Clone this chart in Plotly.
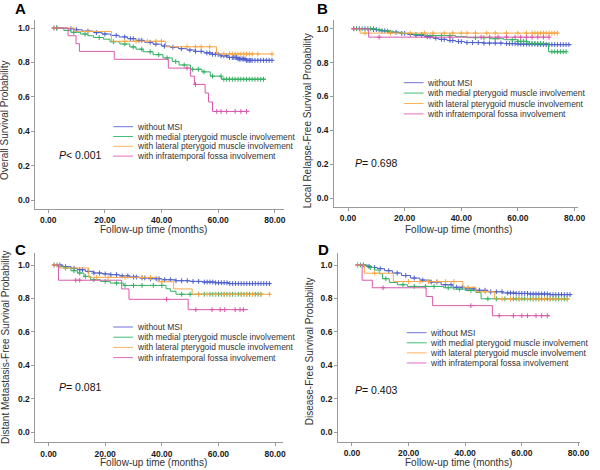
import bisect
import plotly.graph_objects as go

# ---------------- data ----------------
GROUPS = ["without MSI",
          "with medial pterygoid muscle involvement",
          "with lateral pterygoid muscle involvement",
          "with infratemporal fossa involvement"]
PANEL_LABELS = ["A", "B", "C", "D"]
Y_TITLES = ["Overall Survival Probability",
            "Local Relapse-Free Survival Probability",
            "Distant Metastasis-Free Survival Probability",
            "Disease-Free Survival Probability"]
X_TITLE = "Follow-up time (months)"
P_TEXTS = ["<i>P</i>< 0.001", "<i>P</i>= 0.698", "<i>P</i>= 0.081", "<i>P</i>= 0.403"]
X_TICKS = [0, 20, 40, 60, 80]
X_TICK_LABELS = ["0.00", "20.00", "40.00", "60.00", "80.00"]
Y_TICKS = [0.0, 0.2, 0.4, 0.6, 0.8, 1.0]
Y_TICK_LABELS = ["0.0", "0.2", "0.4", "0.6", "0.8", "1.0"]

# Panel A - overall survival
A_NONE_T = [1.5, 6, 9, 12, 16, 19, 22, 25, 28, 31, 34, 37, 40, 43, 46, 49, 52, 55, 58, 61, 64, 67, 70, 79.2]
A_NONE_S = [1.0, 0.996, 0.99, 0.982, 0.973, 0.965, 0.957, 0.948, 0.938, 0.928, 0.917, 0.906, 0.895, 0.888,
            0.880, 0.872, 0.864, 0.855, 0.847, 0.838, 0.829, 0.820, 0.812, 0.812]
A_NONE_C = [2, 3, 8, 10, 14, 17, 20, 24, 27, 29, 30, 32, 33, 36, 38, 41, 44, 47, 50, 52, 54, 56, 57, 58, 59,
            60, 61, 62, 63, 64, 65, 65.5, 66, 66.5, 67, 67.5, 68, 68.5, 69, 69.5, 70, 70.5, 71, 71.5, 72, 73,
            74, 75, 76, 77, 78, 79]
A_MED_T = [1.5, 5.5, 8, 11.4, 14, 16, 19.5, 21.8, 25.3, 28.8, 31, 33.5, 37, 40.5, 43.8, 46.2, 50.2, 54.3,
           57.2, 61.2, 76.9]
A_MED_S = [1.0, 0.985, 0.975, 0.965, 0.955, 0.945, 0.935, 0.92, 0.907, 0.89, 0.877, 0.862, 0.845, 0.826,
           0.805, 0.785, 0.760, 0.745, 0.72, 0.702, 0.702]
A_MED_C = [3, 9, 13, 18, 23, 27, 30, 33, 36, 39, 42, 45, 48, 51, 53, 55, 58, 61, 62, 63, 64, 65, 66, 67, 68,
           69, 70, 71, 72, 73, 74, 75, 76]
A_LAT_T = [1.5, 9.5, 22.3, 41.4, 59.4, 79.3]
A_LAT_S = [1.0, 0.98, 0.923, 0.891, 0.849, 0.849]
A_LAT_C = [2, 14, 27, 31, 35, 38, 40, 49, 52, 54, 57, 62, 64, 65, 66, 67, 68, 69, 70, 71, 72, 74, 79]
A_INF_T = [1.5, 7.0, 9.8, 11.0, 23.3, 42.4, 50.2, 51.6, 55.4, 56.6, 58.0, 71.0]
A_INF_S = [1.0, 0.955, 0.909, 0.864, 0.818, 0.767, 0.72, 0.672, 0.622, 0.570, 0.515, 0.515]
A_INF_C = [49.0, 52.0, 59.5, 61, 63, 66, 68, 70]

# Panel B - local relapse-free survival
B_NONE_T = [1.5, 8.8, 11, 14.5, 18, 21, 23.8, 27, 30, 32, 35, 38, 41.2, 48, 55, 60, 66.7, 78.9]
B_NONE_S = [1.0, 0.995, 0.988, 0.979, 0.972, 0.966, 0.961, 0.952, 0.944, 0.937, 0.93, 0.924, 0.918, 0.915,
            0.912, 0.909, 0.906, 0.906]
B_NONE_C = [2, 4, 6, 9, 10, 12, 13, 15, 17, 19, 20, 22, 24, 26, 28, 29, 31, 33, 34, 36, 37, 39, 40, 42, 44,
            46, 48, 50, 52, 54, 56, 57, 58, 59, 60, 61, 62, 63, 64, 65, 66, 67, 68, 69, 70, 71, 72, 73, 74,
            75, 76, 77, 78]
B_MED_T = [1.5, 10, 12.3, 16, 19.2, 23, 27.3, 38, 42, 50, 55, 60, 63.2, 70.8, 77.1]
B_MED_S = [1.0, 0.993, 0.986, 0.979, 0.972, 0.966, 0.96, 0.953, 0.947, 0.941, 0.935, 0.925, 0.913, 0.864, 0.864]
B_MED_C = [3, 5, 7, 8, 9, 11, 14, 24, 26, 30, 33, 36, 45, 48, 52, 58, 60, 61, 62, 63, 64, 65, 66, 67, 68,
           69, 72, 73, 74, 75, 76, 77]
B_LAT_T = [1.5, 4.3, 74.3]
B_LAT_S = [1.0, 0.974, 0.974]
B_LAT_C = [2, 6, 15, 22, 27, 30, 34, 37, 40, 42, 45, 49, 52, 56, 60, 63, 65, 66, 67, 68, 69, 70, 71, 72, 73, 74]
B_INF_T = [1.5, 7.3, 71.0]
B_INF_S = [1.0, 0.95, 0.95]
B_INF_C = [2, 11, 36, 47, 50, 53, 56, 59, 61, 63, 65, 67, 69, 71]

# Panel C - distant metastasis-free survival
C_NONE_T = [1.5, 5, 8, 10.2, 13, 15.9, 19, 21.7, 25, 28.7, 32, 35.6, 40, 44.9, 50, 54.2, 59, 63.5, 78.5]
C_NONE_S = [1.0, 0.99, 0.98, 0.972, 0.962, 0.952, 0.947, 0.942, 0.935, 0.928, 0.923, 0.918, 0.912, 0.906,
            0.902, 0.898, 0.894, 0.889, 0.889]
C_NONE_C = [2, 4, 6, 9, 11, 12, 14, 16, 18, 20, 22, 24, 26, 28, 30, 31, 33, 34, 36, 38, 39, 41, 43, 45, 47,
            49, 51, 53, 55, 56, 57, 58, 59, 60, 61, 62, 63, 64, 65, 66, 67, 68, 69, 70, 71, 72, 73, 74, 75,
            76, 77, 78]
C_MED_T = [1.5, 3.8, 5.6, 7.9, 10.2, 12.5, 14.8, 18.3, 21.8, 26.4, 41.5, 43, 45, 75.6]
C_MED_S = [1.0, 0.99, 0.982, 0.966, 0.952, 0.932, 0.912, 0.902, 0.892, 0.878, 0.858, 0.843, 0.825, 0.825]
C_MED_C = [3, 6, 9, 11, 13, 16, 20, 24, 27, 30, 33, 37, 40, 47, 50, 53, 55, 57, 58, 59, 60, 61, 62, 63, 64,
           65, 66, 67, 68, 69, 70, 71, 72, 73, 74, 75]
C_LAT_T = [1.5, 4.0, 14.2, 38.6, 44.2, 50.7, 78.5]
C_LAT_S = [1.0, 0.982, 0.926, 0.90, 0.857, 0.825, 0.825]
C_LAT_C = [2, 17, 21, 27, 33, 36, 40, 53, 56, 59, 62, 64, 66, 68, 70, 72, 75, 78]
C_INF_T = [1.5, 3.5, 25.8, 28.4, 49.3, 70.4]
C_INF_S = [1.0, 0.909, 0.857, 0.795, 0.733, 0.733]
C_INF_C = [9.6, 11, 41.7, 52, 57.7, 60.6, 62.2, 65.9, 67.6, 68.8]

# Panel D - disease-free survival
D_NONE_T = [1.5, 5, 7, 9, 11.5, 14.3, 17.5, 20.7, 24, 27.6, 31.5, 35.7, 40, 43.8, 48, 53.1, 58, 62.4, 70, 77.5]
D_NONE_S = [1.0, 0.992, 0.985, 0.978, 0.966, 0.952, 0.937, 0.922, 0.91, 0.898, 0.882, 0.867, 0.857, 0.849,
            0.84, 0.833, 0.83, 0.827, 0.823, 0.823]
D_NONE_C = [2, 4, 6, 8, 10, 13, 16, 19, 22, 25, 28, 30, 33, 35, 37, 39, 41, 43, 45, 47, 49, 51, 53, 55, 56,
            57, 58, 59, 60, 61, 62, 63, 64, 65, 66, 67, 68, 69, 70, 71, 72, 73, 74, 75, 76, 77]
D_MED_T = [1.5, 5.6, 7.9, 9.6, 10.8, 13.2, 16.1, 19.6, 32.4, 35.8, 40, 43.8, 45.6, 76.3]
D_MED_S = [1.0, 0.985, 0.97, 0.948, 0.918, 0.895, 0.882, 0.872, 0.864, 0.856, 0.848, 0.836, 0.798, 0.798]
D_MED_C = [3, 6.5, 12, 18, 22, 26, 29, 34, 38, 42, 48, 51, 54, 56, 57, 58, 59, 60, 61, 62, 63, 64, 65, 66,
           67, 68, 69, 70, 71, 72, 73, 74, 75, 76]
D_LAT_T = [1.5, 4.4, 14.6, 39.2, 43.8, 50.4, 76.6]
D_LAT_S = [1.0, 0.951, 0.901, 0.866, 0.84, 0.797, 0.797]
D_LAT_C = [2, 8, 20, 24, 27, 30, 33, 36, 41, 47, 53, 56, 59, 62, 64, 66, 68, 70, 72, 74, 76]
D_INF_T = [1.5, 3.6, 7.2, 26.2, 28.5, 49.6, 70.0]
D_INF_S = [1.0, 0.909, 0.864, 0.812, 0.757, 0.697, 0.697]
D_INF_C = [11, 42, 52, 57, 60, 62, 65, 67, 69]

# ---------------- style / layout ----------------
W, H = 600, 470
COLORS = ["#4f60cc", "#34b064", "#f6a845", "#d95aab"]
LEGEND_COLORS = ["#6f72dc", "#3fc07a", "#ffb25a", "#e26cc4"]
FONT = "Liberation Sans, Arial, sans-serif"
AXIS_COLOR = "#9a9a9a"

PANEL_DATA = [
    [(A_NONE_T, A_NONE_S, A_NONE_C), (A_MED_T, A_MED_S, A_MED_C), (A_LAT_T, A_LAT_S, A_LAT_C), (A_INF_T, A_INF_S, A_INF_C)],
    [(B_NONE_T, B_NONE_S, B_NONE_C), (B_MED_T, B_MED_S, B_MED_C), (B_LAT_T, B_LAT_S, B_LAT_C), (B_INF_T, B_INF_S, B_INF_C)],
    [(C_NONE_T, C_NONE_S, C_NONE_C), (C_MED_T, C_MED_S, C_MED_C), (C_LAT_T, C_LAT_S, C_LAT_C), (C_INF_T, C_INF_S, C_INF_C)],
    [(D_NONE_T, D_NONE_S, D_NONE_C), (D_MED_T, D_MED_S, D_MED_C), (D_LAT_T, D_LAT_S, D_LAT_C), (D_INF_T, D_INF_S, D_INF_C)],
]

# pixel geometry of each panel: axis box (left, right, top, bottom), x-zero px, y=1 px, y=0 px
GEOM = [
    dict(l=36, r=288, t=20, b=209, x0=49.0, y1=28.0, y0=200.0),
    dict(l=339.3, r=587.3, t=20, b=206.7, x0=353.3, y1=28.7, y0=198.0),
    dict(l=36, r=287.3, t=253, b=442.3, x0=49.3, y1=265.0, y0=432.3),
    dict(l=343.3, r=589.3, t=253, b=441.7, x0=357.3, y1=265.0, y0=432.3),
]
PX_PER_MONTH = 2.875
LEGEND_POS = [  # line start x, text x, first row y, row gap
    (115, 137, 126.7, 9.8),
    (410, 431, 82.7, 10.4),
    (115, 137, 327.0, 10.2),
    (413, 435, 332.7, 10.1),
]
PVAL_POS = [(58, 155), (358, 162.7), (58, 386.7), (358, 390.3)]
LABEL_POS = [(21, 9), (327, 9), (21, 249), (328, 249)]
YTITLE_POS = [(5, 120), (313, 121), (5, 347), (314, 351)]
XTITLE_POS = [(156, 229), (465, 229), (156, 462), (465, 462)]


def px(x):
    return x / W


def py(y):
    return 1 - y / H


def step_value(T, S, c):
    i = bisect.bisect_right(T, c) - 1
    return S[max(i, 0)]


fig = go.Figure()
annotations = []
shapes = []

for p in range(4):
    g = GEOM[p]
    sfx = "" if p == 0 else str(p + 1)
    xa, ya = "x" + sfx, "y" + sfx
    for k in range(4):
        T, S, C = PANEL_DATA[p][k]
        fig.add_trace(go.Scatter(x=T, y=S, mode="lines", line=dict(color=COLORS[k], width=1, shape="hv"),
                                 xaxis=xa, yaxis=ya, showlegend=False, hoverinfo="skip"))
        cy = [step_value(T, S, c) for c in C]
        fig.add_trace(go.Scatter(x=C, y=cy, mode="markers",
                                 marker=dict(symbol="cross-thin", size=3.5, line=dict(color=COLORS[k], width=1)),
                                 xaxis=xa, yaxis=ya, showlegend=False, hoverinfo="skip"))

    xr = [-(g["x0"] - g["l"]) / PX_PER_MONTH, (g["r"] - g["x0"]) / PX_PER_MONTH]
    ppu = g["y0"] - g["y1"]
    yr = [-(g["b"] - g["y0"]) / ppu, 1 + (g["y1"] - g["t"]) / ppu]
    common = dict(showline=True, linecolor=AXIS_COLOR, linewidth=1, ticks="outside", ticklen=3,
                  tickcolor=AXIS_COLOR, showgrid=False, zeroline=False,
                  tickfont=dict(family=FONT, size=8.5, color="#1a1a1a", weight="bold"))
    fig.update_layout(**{
        "xaxis" + sfx: dict(domain=[px(g["l"]), px(g["r"])], range=xr, anchor=ya,
                            tickvals=X_TICKS, ticktext=X_TICK_LABELS, **common),
        "yaxis" + sfx: dict(domain=[py(g["b"]), py(g["t"])], range=yr, anchor=xa,
                            tickvals=Y_TICKS, ticktext=Y_TICK_LABELS, **common),
    })

    # legend (drawn)
    lx, tx, ry, gap = LEGEND_POS[p]
    for k in range(4):
        yy = ry + k * gap
        shapes.append(dict(type="line", xref="paper", yref="paper", x0=px(lx), x1=px(lx + 20),
                           y0=py(yy), y1=py(yy), line=dict(color=LEGEND_COLORS[k], width=1)))
        annotations.append(dict(text=GROUPS[k], xref="paper", yref="paper", x=px(tx), y=py(yy),
                                xanchor="left", yanchor="middle", showarrow=False,
                                font=dict(family=FONT, size=8.5, color="#333333")))
    # p value
    annotations.append(dict(text=P_TEXTS[p], xref="paper", yref="paper", x=px(PVAL_POS[p][0]),
                            y=py(PVAL_POS[p][1]), xanchor="left", yanchor="middle", showarrow=False,
                            font=dict(family=FONT, size=10.5, color="#111111")))
    # panel label
    annotations.append(dict(text="<b>" + PANEL_LABELS[p] + "</b>", xref="paper", yref="paper",
                            x=px(LABEL_POS[p][0]), y=py(LABEL_POS[p][1]), xanchor="center",
                            yanchor="middle", showarrow=False,
                            font=dict(family=FONT, size=15, color="#000000")))
    # axis titles
    annotations.append(dict(text=Y_TITLES[p], xref="paper", yref="paper", x=px(YTITLE_POS[p][0]),
                            y=py(YTITLE_POS[p][1]), xanchor="center", yanchor="middle", textangle=-90,
                            showarrow=False, font=dict(family=FONT, size=10, color="#333333")))
    annotations.append(dict(text=X_TITLE, xref="paper", yref="paper", x=px(XTITLE_POS[p][0]),
                            y=py(XTITLE_POS[p][1]), xanchor="center", yanchor="middle",
                            showarrow=False, font=dict(family=FONT, size=10, color="#333333")))

fig.update_layout(width=W, height=H, margin=dict(l=0, r=0, t=0, b=0),
                  paper_bgcolor="white", plot_bgcolor="white",
                  annotations=annotations, shapes=shapes, showlegend=False)

fig.write_html("out.html", config={"displayModeBar": False},
               post_script="document.body.style.margin='0';document.body.style.overflow='hidden';")
